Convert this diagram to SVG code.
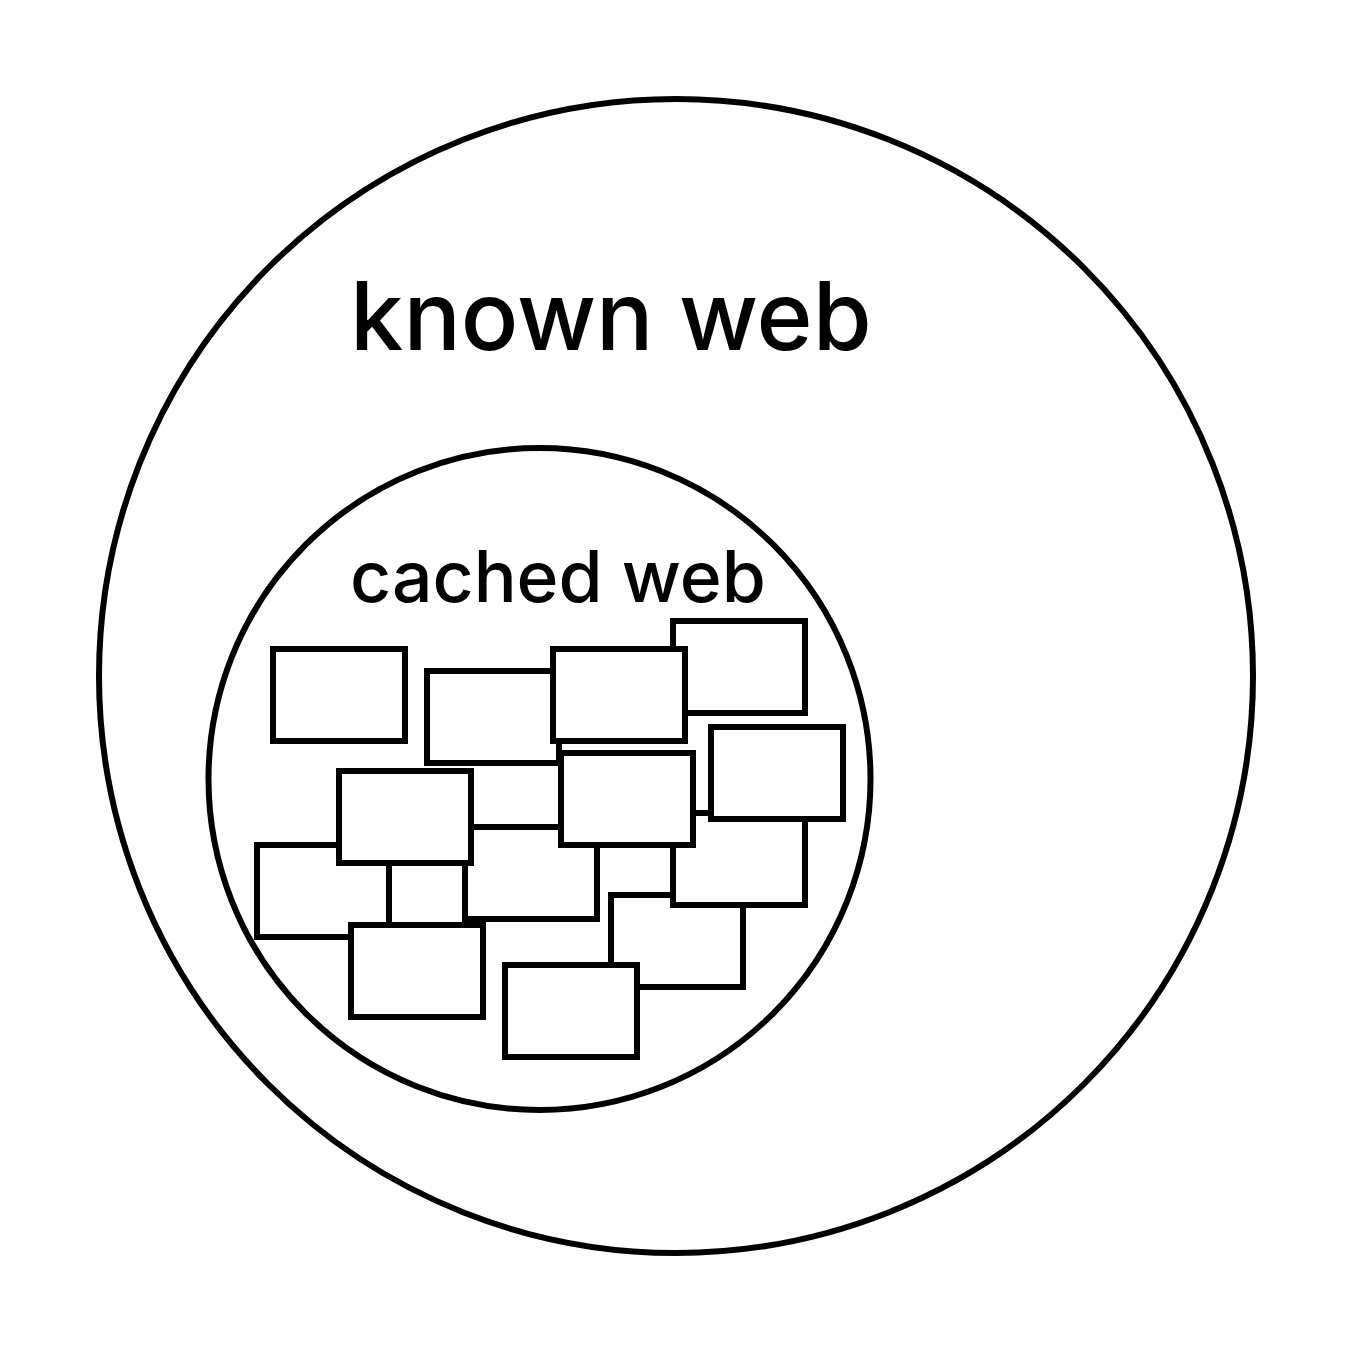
<svg xmlns="http://www.w3.org/2000/svg" width="1352" height="1352" viewBox="0 0 1352 1352">
<style>
.c{fill:#fff;stroke:#000;stroke-width:6}
.r{fill:#fff;stroke:#000;stroke-width:6}
.t1{font-family:Inter,"Liberation Sans",sans-serif;font-size:95.5px;font-weight:500;fill:#000}
.t2{font-family:Inter,"Liberation Sans",sans-serif;font-size:71.4px;font-weight:500;fill:#000}
</style>
<rect width="1352" height="1352" fill="#fff"/>
<g id="known-web">
<circle class="c" cx="676" cy="676" r="577"/>
<text class="t1" x="350" y="350">known web</text>
</g>
<g id="cached-web">
<circle class="c" cx="539.5" cy="779" r="331"/>
<text class="t2" x="350" y="602">cached web</text>
</g>
<g id="pages">
<rect id="B" class="r" x="427" y="671" width="132" height="92"/>
<rect id="E" class="r" x="673" y="621" width="132" height="92"/>
<rect id="C" class="r" x="553" y="649" width="132" height="92"/>
<rect id="A" class="r" x="273" y="649" width="132" height="92"/>
<rect id="K" class="r" x="257" y="845" width="132" height="92"/>
<rect id="H" class="r" x="465" y="827" width="132" height="92"/>
<rect id="M" class="r" x="611" y="895" width="132" height="92"/>
<rect id="G" class="r" x="673" y="813" width="132" height="92"/>
<rect id="I" class="r" x="339" y="771" width="132" height="92"/>
<rect id="L" class="r" x="351" y="925" width="132" height="92"/>
<rect id="D" class="r" x="561" y="753" width="132" height="92"/>
<rect id="F" class="r" x="711" y="727" width="132" height="92"/>
<rect id="N" class="r" x="505" y="965" width="132" height="92"/>
</g>
<g id="connectors"/>
</svg>
